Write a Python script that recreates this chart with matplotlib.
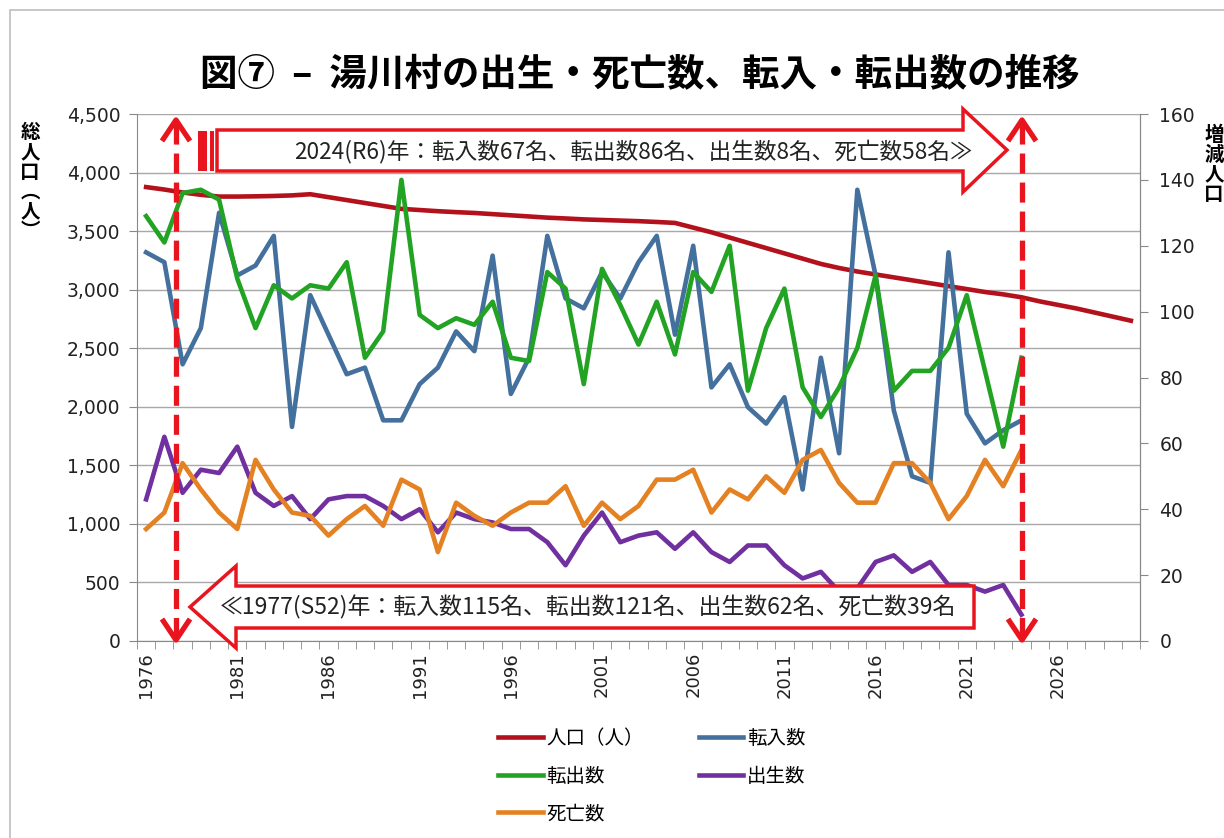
import matplotlib
matplotlib.use('Agg')
import matplotlib.pyplot as plt
from matplotlib.patches import Polygon, Rectangle
from matplotlib.lines import Line2D
from matplotlib.ticker import FuncFormatter, MultipleLocator

plt.rcParams['font.family'] = ['DejaVu Sans', 'Noto Sans CJK JP']
JP = ['Noto Sans CJK JP', 'DejaVu Sans']

# population (left axis), incl. projection to 2030
pop_years = list(range(1976, 2031))
population = [3876, 3855, 3830, 3810, 3795, 3795, 3797, 3800, 3805, 3815,
              3790, 3765, 3740, 3715, 3690, 3680, 3670, 3662, 3655, 3645,
              3635, 3625, 3615, 3608, 3600, 3595, 3590, 3585, 3578, 3570,
              3530, 3490, 3445, 3400, 3355, 3310, 3265, 3220, 3185, 3155,
              3130, 3105, 3080, 3055, 3030, 3005, 2980, 2960, 2935, 2900,
              2870, 2840, 2805, 2770, 2735]

# yearly flows (right axis)
flow_years = list(range(1976, 2025))
tennyu = [118, 115, 84, 95, 130, 111, 114, 123, 65, 105,
          93, 81, 83, 67, 67, 78, 83, 94, 88, 117,
          75, 86, 123, 104, 101, 112, 104, 115, 123, 93,
          120, 77, 84, 71, 66, 74, 46, 86, 57, 137,
          111, 70, 50, 48, 118, 69, 60, 64, 67]
tenshutsu = [129, 121, 136, 137, 134, 110, 95, 108, 104, 108,
             107, 115, 86, 94, 140, 99, 95, 98, 96, 103,
             86, 85, 112, 107, 78, 113, 102, 90, 103, 87,
             112, 106, 120, 76, 95, 107, 77, 68, 77, 89,
             111, 76, 82, 82, 89, 105, 82, 59, 86]
births = [43, 62, 45, 52, 51, 59, 45, 41, 44, 37,
          43, 44, 44, 41, 37, 40, 33, 39, 37, 36,
          34, 34, 30, 23, 32, 39, 30, 32, 33, 28,
          33, 27, 24, 29, 29, 23, 19, 21, 15, 16,
          24, 26, 21, 24, 17, 17, 15, 17, 8]
deaths = [34, 39, 54, 46, 39, 34, 55, 46, 39, 38,
          32, 37, 41, 35, 49, 46, 27, 42, 38, 35,
          39, 42, 42, 47, 35, 42, 37, 41, 49, 49,
          52, 39, 46, 43, 50, 45, 55, 58, 48, 42,
          42, 54, 54, 48, 37, 44, 55, 47, 58]

labels = ['人口（人）', '転入数', '転出数', '出生数', '死亡数']
colors = ['#b3121c', '#44709e', '#23a323', '#7030a0', '#e48122']
title = '図⑦  –  湯川村の出生・死亡数、転入・転出数の推移'
note_2024 = '2024(R6)年：転入数67名、転出数86名、出生数8名、死亡数58名≫'
note_1977 = '≪1977(S52)年：転入数115名、転出数121名、出生数62名、死亡数39名'

W, H = 1224, 838
fig = plt.figure(figsize=(W / 100, H / 100), dpi=100)


def px(x, y):
    return (x / W, 1 - y / H)


ax = fig.add_axes([137 / W, 1 - 641 / H, (1140 - 137) / W, (641 - 114) / H])
ax2 = ax.twinx()

lw = 3.3
h_pop, = ax.plot(pop_years, population, color=colors[0], lw=lw, label=labels[0])
h_in, = ax2.plot(flow_years, tennyu, color=colors[1], lw=lw, label=labels[1])
h_out, = ax2.plot(flow_years, tenshutsu, color=colors[2], lw=lw, label=labels[2])
h_b, = ax2.plot(flow_years, births, color=colors[3], lw=lw, label=labels[3])
h_d, = ax2.plot(flow_years, deaths, color=colors[4], lw=lw, label=labels[4])

ax.set_xlim(pop_years[0] - 0.5, pop_years[-1] + 0.5)
ax.set_ylim(0, 4500)
ax2.set_ylim(0, 160)
ax.yaxis.set_major_locator(MultipleLocator(500))
ax.yaxis.set_major_formatter(FuncFormatter(lambda v, p: f'{int(v):,}'))
ax2.yaxis.set_major_locator(MultipleLocator(20))
ax.set_xticks(pop_years[::5])
ax.set_xticks([y - 0.5 for y in pop_years] + [pop_years[-1] + 0.5], minor=True)
ax.tick_params(axis='x', which='major', length=0, labelsize=13, labelrotation=90,
               pad=8, colors='#222222')
ax.tick_params(axis='x', which='minor', length=6, color='#888888')
ax.tick_params(axis='y', length=6, color='#888888', labelsize=13.5, pad=6,
               labelcolor='#222222')
ax2.tick_params(axis='y', length=6, color='#888888', labelsize=13.5, pad=8,
                labelcolor='#222222')
ax.grid(axis='y', color='#a8a8a8', lw=1)
ax.set_axisbelow(True)
for a in (ax, ax2):
    a.spines['top'].set_visible(False)
    for s in ('left', 'right', 'bottom'):
        a.spines[s].set_color('#888888')
ax2.spines['left'].set_visible(False)
ax2.spines['bottom'].set_visible(False)

fig.text(640 / W, 1 - 75 / H, title, ha='center', va='center', fontsize=27,
         fontweight='bold', family=JP)
fig.text(30 / W, 1 - 182 / H, '\n'.join('総人口︵人︶'), ha='center', va='center',
         fontsize=14, fontweight='bold', family=JP, linespacing=1.05)
fig.text(1214 / W, 1 - 165 / H, '\n'.join('増減人口'), ha='center', va='center',
         fontsize=14, fontweight='bold', family=JP, linespacing=1.05)

# outer frame
fig.add_artist(Rectangle(px(10, 900), 1300 / W, 890 / H, transform=fig.transFigure,
                         fill=False, ec='#bdbdbd', lw=1.2))

red = '#e8151e'
# upper striped right arrow
up = [(217, 130), (963, 130), (963, 109), (1007, 150), (963, 192), (963, 171), (217, 171)]
fig.add_artist(Polygon([px(*p) for p in up], closed=True, transform=fig.transFigure,
                       fc='white', ec=red, lw=2.5, zorder=5))
for x0, x1 in ((198, 207), (210, 214)):
    fig.add_artist(Polygon([px(x0, 131), px(x1, 131), px(x1, 171), px(x0, 171)],
                           transform=fig.transFigure, fc=red, ec='none', zorder=5))
fig.text(633 / W, 1 - 151 / H, note_2024, ha='center', va='center', fontsize=16.3,
         family=JP, color='#222222', zorder=6)

# lower left arrow
lo = [(190, 607), (236, 566), (236, 586), (974, 586), (974, 628), (236, 628), (236, 648)]
fig.add_artist(Polygon([px(*p) for p in lo], closed=True, transform=fig.transFigure,
                       fc='white', ec=red, lw=2.5, zorder=5))
fig.text(588 / W, 1 - 607 / H, note_1977, ha='center', va='center', fontsize=16.5,
         family=JP, color='#222222', zorder=6)

# dashed double-headed arrows
for xa in (176, 1022):
    fig.add_artist(Line2D([xa / W, xa / W], [1 - 124 / H, 1 - 636 / H], color=red,
                          lw=3.8, dashes=(3.8, 1.7), zorder=6))
    for tip, d in ((120, 1), (640, -1)):
        fig.add_artist(Line2D([(xa - 14) / W, xa / W, (xa + 14) / W],
                              [1 - (tip + 21 * d) / H, 1 - tip / H, 1 - (tip + 21 * d) / H],
                              color=red, lw=3.8, solid_capstyle='butt', zorder=6))

leg = fig.legend([h_pop, h_out, h_d, h_in, h_b],
                 [labels[0], labels[2], labels[4], labels[1], labels[3]],
                 ncol=2, loc='upper left', bbox_to_anchor=px(498, 728), frameon=False,
                 prop={'family': JP, 'size': 14}, handlelength=2.3, handletextpad=0.2,
                 columnspacing=2.8, labelspacing=0.85, borderaxespad=0, borderpad=0)

fig.savefig('out.png', dpi=100)
